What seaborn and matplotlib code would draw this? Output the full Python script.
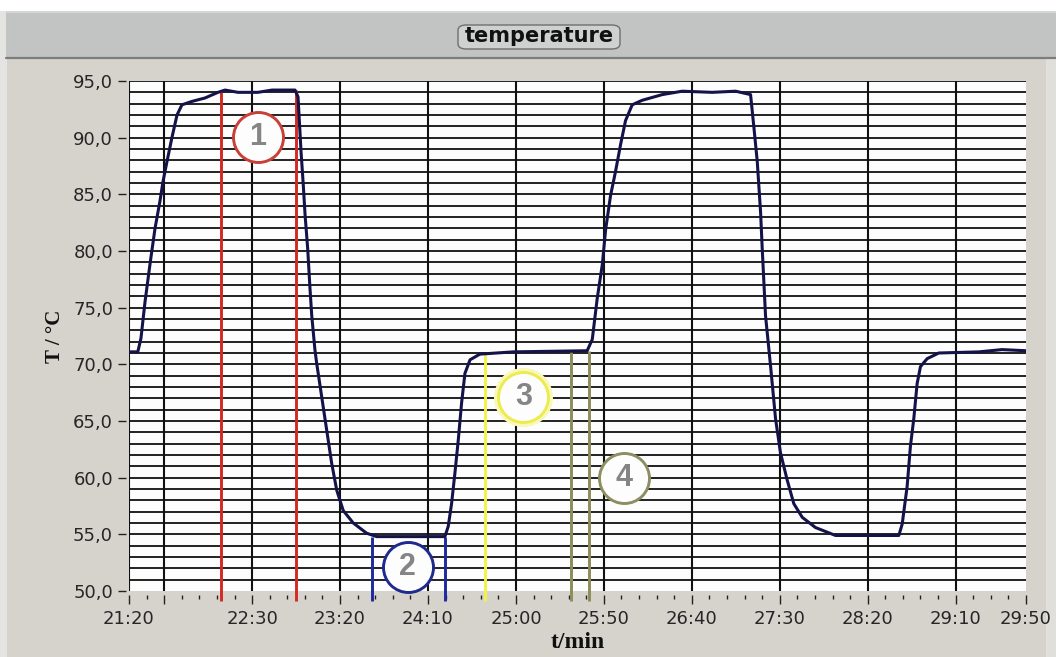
import numpy as np
import pandas as pd
import matplotlib
matplotlib.use("Agg")
import matplotlib.pyplot as plt
import seaborn as sns
from matplotlib.patches import Rectangle, FancyBboxPatch
from matplotlib.lines import Line2D
from matplotlib.ticker import FixedLocator, MultipleLocator

# ---------------- data (time in seconds, value in degC) ----------------
time_s = [1280, 1285, 1286.8, 1289.1, 1291.9, 1294.8, 1297.6, 1299.3, 1301.6, 1304.4,
          1307.3, 1310.1, 1315.8, 1323.2, 1330.6, 1334.6, 1342.0, 1353.3, 1361.3, 1374.4,
          1376.1, 1377.8, 1379.1, 1380.1, 1381.6, 1382.9, 1383.9, 1385.7, 1386.7, 1389.5,
          1392.4, 1395.2, 1398.1, 1401.8, 1407.5, 1415.1, 1420.8, 1459.6, 1461.5, 1463.4,
          1465.3, 1467.2, 1469.1, 1471.0, 1473.9, 1479.5, 1498.5, 1540.5, 1543.4, 1546.2,
          1549.1, 1551.0, 1553.8, 1556.6, 1559.5, 1562.3, 1566.1, 1571.8, 1583.2, 1594.5,
          1611.6, 1624.9, 1633.4, 1635.3, 1637.2, 1639.1, 1640.0, 1641.9, 1644.8, 1647.6,
          1650.4, 1654.2, 1658.0, 1662.8, 1670.3, 1681.7, 1717.7, 1719.6, 1722.4, 1724.3,
          1726.2, 1728.1, 1730.0, 1733.8, 1740.4, 1763.2, 1776.4, 1790]
temp_c = [71.1, 71.1, 72.3, 75.5, 78.8, 82.0, 84.4, 86.1, 87.9, 90.0,
          92.0, 92.9, 93.2, 93.5, 94.0, 94.2, 94.0, 94.0, 94.2, 94.2,
          93.6, 88.8, 85.8, 83.2, 80.2, 76.7, 74.3, 71.3, 70.1, 67.2,
          64.2, 61.3, 58.9, 57.1, 56.0, 55.1, 54.8, 54.8, 55.7, 57.7,
          60.4, 63.3, 66.6, 69.2, 70.4, 70.9, 71.1, 71.2, 72.2, 75.8,
          78.8, 81.9, 84.9, 87.0, 89.4, 91.5, 92.9, 93.3, 93.8, 94.1,
          94.0, 94.1, 93.8, 90.9, 87.9, 83.4, 80.3, 74.3, 69.8, 65.2,
          62.2, 59.8, 57.7, 56.5, 55.6, 54.9, 54.9, 55.9, 59.2, 62.8,
          65.2, 68.3, 69.8, 70.5, 71.0, 71.1, 71.3, 71.2]

x_tick_values = [1280, 1300, 1350, 1400, 1450, 1500, 1550, 1600, 1650, 1700, 1750, 1790]
x_tick_labels = ["21:20", "", "22:30", "23:20", "24:10", "25:00", "25:50",
                 "26:40", "27:30", "28:20", "29:10", "29:50"]
y_tick_values = [50, 55, 60, 65, 70, 75, 80, 85, 90, 95]
y_tick_labels = ["50,0", "55,0", "60,0", "65,0", "70,0", "75,0", "80,0", "85,0", "90,0", "95,0"]

# cursor (marker) lines: time, top value, group number
marker_times = [1332.2, 1374.7, 1418.0, 1459.4, 1482.4, 1531.1, 1541.7]
marker_tops = [94.1, 94.2, 54.8, 54.8, 71.0, 71.1, 71.2]
marker_groups = [1, 1, 2, 2, 3, 4, 4]

label_numbers = [1, 2, 3, 4]
label_times = [1353.3, 1438.4, 1504.2, 1561.5]
label_values = [90.1, 52.1, 67.1, 60.0]

# ---------------- styles ----------------
group_line_colors = {1: "#d22a22", 2: "#1c2a9e", 3: "#f4f24a", 4: "#8e8c58"}
group_ring_colors = {1: "#c94038", 2: "#1e2a8e", 3: "#ecec50", 4: "#8e8e62"}
marker_bottom = 49.1

sns.set_theme(style="white")
plt.rcParams["font.family"] = ["DejaVu Sans"]

fig = plt.figure(figsize=(10.56, 6.57), dpi=100)
fig.patch.set_facecolor("#d6d3cd")

W, H = 1056.0, 657.0
def fx(px):
    return px / W
def fy(py):
    return 1 - py / H

# window decorations
fig.add_artist(Rectangle((0, fy(11)), 1, 11 / H, transform=fig.transFigure,
                         facecolor="white", edgecolor="none", zorder=0))
fig.add_artist(Rectangle((0, 0), fx(7), fy(11), transform=fig.transFigure,
                         facecolor="#e4e4e2", edgecolor="none", zorder=0))
fig.add_artist(Rectangle((fx(1046), 0), 1 - fx(1046), fy(58), transform=fig.transFigure,
                         facecolor="#e0dfdc", edgecolor="none", zorder=0))
# title bar
fig.add_artist(Rectangle((fx(6), fy(58)), 1 - fx(6), 47 / H, transform=fig.transFigure,
                         facecolor="#c2c4c4", edgecolor="none", zorder=1))
fig.add_artist(Line2D([fx(6), 1], [fy(57.5), fy(57.5)], transform=fig.transFigure,
                      color="#7c7e7e", lw=1.6, zorder=2))
fig.add_artist(Line2D([fx(6), 1], [fy(11.5), fy(11.5)], transform=fig.transFigure,
                      color="#dadcdc", lw=1.2, zorder=2))
fig.add_artist(FancyBboxPatch((fx(458), fy(49)), fx(620) - fx(458), 24 / H,
                              boxstyle="round,pad=0,rounding_size=0.008",
                              transform=fig.transFigure, facecolor="#cfd1d1",
                              edgecolor="#6e7070", lw=1.0, zorder=2))
fig.text(fx(539), fy(36), "temperature", ha="center", va="center",
         fontsize=15, fontweight="bold", family=["Liberation Sans Narrow", "DejaVu Sans"],
         color="#111111", zorder=3)

# plot area
ax = fig.add_axes([fx(129), 66 / H, 897 / W, 510 / H])
ax.set_facecolor("#fdfdfd")

df = pd.DataFrame({"t": time_s, "T": temp_c})
sns.lineplot(data=df, x="t", y="T", ax=ax, color="#13134a", linewidth=2.2,
             estimator=None, sort=False, zorder=5)

# cursor lines
ax.vlines(marker_times, [marker_bottom] * len(marker_times), marker_tops,
          colors=[group_line_colors[g] for g in marker_groups],
          linewidth=2.1, zorder=4, clip_on=False)

# numbered circles
for n, xt, yv in zip(label_numbers, label_times, label_values):
    if n == 3:
        ax.plot([xt], [yv], marker="o", ms=37, mfc="#fdfdfd", mec="#f8f8b8",
                mew=5.5, zorder=5.5, clip_on=False)
    ax.plot([xt], [yv], marker="o", ms=36, mfc="#fdfdfd", mec=group_ring_colors[n],
            mew=2.1, zorder=6, clip_on=False)
    ax.text(xt, yv, str(n), ha="center", va="center", fontsize=22, fontweight="bold",
            family=["Liberation Sans", "DejaVu Sans"], color="#858585", zorder=7)

ax.set_xlim(1280, 1790)
ax.set_ylim(50, 95)
ax.set_xticks(x_tick_values)
ax.set_xticklabels(x_tick_labels)
ax.xaxis.set_minor_locator(MultipleLocator(10))
ax.set_yticks(y_tick_values)
ax.set_yticklabels(y_tick_labels)
ax.yaxis.set_minor_locator(FixedLocator(np.arange(51, 96)))
ax.yaxis.remove_overlapping_locs = False

for s in ax.spines.values():
    s.set_visible(False)
ax.spines["bottom"].set_position(("outward", 3))
ax.spines["left"].set_position(("outward", 2.5))

ax.grid(False)
ax.grid(True, axis="x", which="major", color="#111111", lw=1.5)
ax.grid(True, axis="y", which="minor", color="#111111", lw=1.3)
ax.set_axisbelow(True)
ax.xaxis.get_major_ticks()[-1].gridline.set_visible(False)

ax.tick_params(axis="x", which="major", direction="out", length=6.5, width=1.0,
               color="#222222", labelsize=13, labelcolor="#262626", pad=4, bottom=True)
ax.tick_params(axis="x", which="minor", direction="out", length=3, width=1.0,
               color="#222222", bottom=True)
ax.tick_params(axis="y", which="major", direction="out", length=6, width=1.0,
               color="#222222", labelsize=13, labelcolor="#262626", pad=3, left=True)
ax.tick_params(axis="y", which="minor", length=0)

ax.set_xlabel("t/min", fontsize=17, fontweight="bold",
              family=["Liberation Serif", "DejaVu Serif"], color="#111111", labelpad=3)
ax.set_ylabel("T / °C", fontsize=15, fontweight="bold",
              family=["Liberation Serif", "DejaVu Serif"], color="#111111", labelpad=6)

fig.savefig("out.png", dpi=100, facecolor=fig.get_facecolor())
